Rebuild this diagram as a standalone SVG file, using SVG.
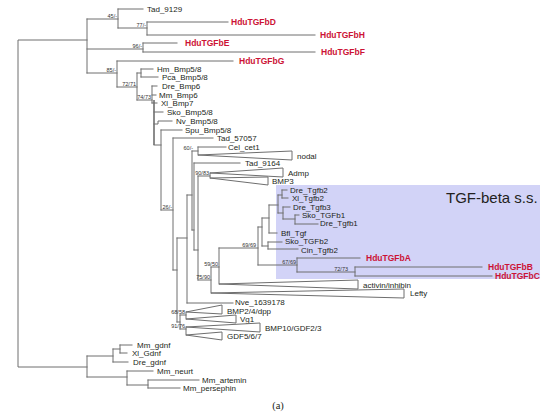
<svg xmlns="http://www.w3.org/2000/svg" width="550" height="416" viewBox="0 0 550 416">
<style>
.br{fill:none;stroke:#6e6e6e;stroke-width:1;stroke-linecap:square}
.tri{fill:#fff;stroke:#6e6e6e;stroke-width:1}
.lf{font-family:"Liberation Sans",Arial,sans-serif;font-size:8px;fill:#231f20}
.rd{font-family:"Liberation Sans",Arial,sans-serif;font-size:8.5px;font-weight:bold;fill:#cc1236}
.bs{font-family:"Liberation Sans",Arial,sans-serif;font-size:5.5px;fill:#333;text-anchor:end}
</style>
<rect width="550" height="416" fill="#fff"/>
<rect id="tgfbeta-box" x="276" y="185" width="264" height="94" fill="#d2d3f7"/>
<text x="446" y="203" font-family="'Liberation Sans',Arial,sans-serif" font-size="15" fill="#231f20">TGF-beta s.s.</text>
<g id="connectors">
<path class="br" d="M87,40H18V367H87 M87,19V73 M87,19H118 M118,9V28 M118,9H143 M118,28H147 M147,22V35 M147,22H228 M147,35H315 M87,49H143 M143,43V52 M143,43H177 M143,52H315 M87,73H117 M117,61V87 M117,61H233 M117,87H137 M137,73V100 M137,73H141 M141,69V77 M141,69H153 M141,77H158 M137,100H152 M152,86V103 M152,86H157 M152,95H156 M152,103H157 M154,112H163 M154,124H158V121H172 M154,145H161 M161,130V210 M161,130H182 M161,210H173 M173,138V270 M173,138H213 M173,270H177 M177,238V322 M177,238H187 M177,322H180 M187,195V303 M187,303H233 M187,195H192 M192,151V230 M192,151H198 M198,147V155 M198,147H226 M192,230H194 M194,163V250 M194,163H240 M194,250H198 M198,176V280 M198,176H210 M210,173V178 M198,280H211 M211,267V293 M211,267H219 M219,248V284 M219,248H258 M258,227V265 M258,227H262 M258,265H297 M262,218V246 M262,218H269 M262,246H268 M269,205V233 M269,205H278 M269,233H277 M278,195V213 M278,195H282 M278,213H283 M282,190V198 M282,190H287 M282,198H288 M283,207V219 M283,207H290 M283,219H295 M295,215V224 M295,215H299 M295,224H318 M268,242V249 M268,242H282 M268,249H298 M297,258V272 M297,258H360 M297,272H355 M355,267V276 M355,267H482 M355,276H492 M180,315V329 M180,315H186 M180,329H186 M186,312V319 M186,327V335 M87,356V377 M87,356H113 M113,349V362 M113,349H120 M120,345V353 M120,345H132 M120,353H127 M113,362H128 M87,377H127 M127,371V385 M127,371H153 M127,385H148 M148,380V388 M148,380H199 M148,388H180"/>
<path d="M154,100V145" fill="none" stroke="#6e6e6e" stroke-width="1.6"/>
</g>
<g id="support">
<text class="bs" x="117" y="18">45/-</text>
<text class="bs" x="146" y="27">77/-</text>
<text class="bs" x="142" y="48">96/-</text>
<text class="bs" x="116" y="72">85/-</text>
<text class="bs" x="136" y="86">72/71</text>
<text class="bs" x="151" y="99">74/73</text>
<text class="bs" x="193" y="150">60/-</text>
<text class="bs" x="172" y="209">26/-</text>
<text class="bs" x="209" y="175">90/83</text>
<text class="bs" x="256" y="247">69/69</text>
<text class="bs" x="218" y="266">59/50</text>
<text class="bs" x="210" y="279">75/90</text>
<text class="bs" x="296" y="264">67/69</text>
<text class="bs" x="348" y="271">72/73</text>
<text class="bs" x="185" y="314">68/58</text>
<text class="bs" x="185" y="328">91/76</text>
</g>
<g id="n-Tad_9129"><text class="lf" x="147" y="12">Tad_9129</text></g>
<g id="n-HduTGFbD"><text class="rd" x="231" y="25">HduTGFbD</text></g>
<g id="n-HduTGFbH"><text class="rd" x="320" y="38">HduTGFbH</text></g>
<g id="n-HduTGFbE"><text class="rd" x="185" y="46">HduTGFbE</text></g>
<g id="n-HduTGFbF"><text class="rd" x="321" y="55">HduTGFbF</text></g>
<g id="n-HduTGFbG"><text class="rd" x="239" y="64">HduTGFbG</text></g>
<g id="n-Hm_Bmp58"><text class="lf" x="157" y="72">Hm_Bmp5/8</text></g>
<g id="n-Pca_Bmp58"><text class="lf" x="162" y="80">Pca_Bmp5/8</text></g>
<g id="n-Dre_Bmp6"><text class="lf" x="162" y="89">Dre_Bmp6</text></g>
<g id="n-Mm_Bmp6"><text class="lf" x="159" y="98">Mm_Bmp6</text></g>
<g id="n-Xl_Bmp7"><text class="lf" x="161" y="106">Xl_Bmp7</text></g>
<g id="n-Sko_Bmp58"><text class="lf" x="167" y="115">Sko_Bmp5/8</text></g>
<g id="n-Nv_Bmp58"><text class="lf" x="176" y="124">Nv_Bmp5/8</text></g>
<g id="n-Spu_Bmp58"><text class="lf" x="185" y="133">Spu_Bmp5/8</text></g>
<g id="n-Tad_57057"><text class="lf" x="217" y="141">Tad_57057</text></g>
<g id="n-Cel_cet1"><text class="lf" x="228" y="150">Cel_cet1</text></g>
<g id="n-nodal"><polygon class="tri" points="198,155 292,151 292,160"/><text class="lf" x="297" y="159">nodal</text></g>
<g id="n-Tad_9164"><text class="lf" x="245" y="166">Tad_9164</text></g>
<g id="n-Admp"><polygon class="tri" points="210,173 283,168 283,177"/><text class="lf" x="288" y="176">Admp</text></g>
<g id="n-BMP3"><polygon class="tri" points="210,178 268,177 268,185"/><text class="lf" x="272" y="184">BMP3</text></g>
<g id="n-Dre_Tgfb2"><text class="lf" x="290" y="193">Dre_Tgfb2</text></g>
<g id="n-Xl_Tgfb2"><text class="lf" x="292" y="201">Xl_Tgfb2</text></g>
<g id="n-Dre_Tgfb3"><text class="lf" x="293" y="210">Dre_Tgfb3</text></g>
<g id="n-Sko_TGFb1"><text class="lf" x="302" y="218">Sko_TGFb1</text></g>
<g id="n-Dre_Tgfb1"><text class="lf" x="320" y="226">Dre_Tgfb1</text></g>
<g id="n-Bfl_Tgf"><text class="lf" x="281" y="236">Bfl_Tgf</text></g>
<g id="n-Sko_TGFb2"><text class="lf" x="285" y="244">Sko_TGFb2</text></g>
<g id="n-Cin_Tgfb2"><text class="lf" x="301" y="253">Cin_Tgfb2</text></g>
<g id="n-HduTGFbA"><text class="rd" x="366" y="261">HduTGFbA</text></g>
<g id="n-HduTGFbB"><text class="rd" x="488" y="270">HduTGFbB</text></g>
<g id="n-HduTGFbC"><text class="rd" x="495" y="279">HduTGFbC</text></g>
<g id="n-activin"><polygon class="tri" points="219,284 358,280 358,289"/><text class="lf" x="363" y="288">activin/inhibin</text></g>
<g id="n-Lefty"><polygon class="tri" points="211,293 404,289 404,298"/><text class="lf" x="410" y="296">Lefty</text></g>
<g id="n-Nve_1639178"><text class="lf" x="235" y="305">Nve_1639178</text></g>
<g id="n-BMP24dpp"><polygon class="tri" points="186,312 222,305 222,314"/><text class="lf" x="227" y="314">BMP2/4/dpp</text></g>
<g id="n-Vg1"><polygon class="tri" points="186,319 236,315 236,323"/><text class="lf" x="240" y="322">Vg1</text></g>
<g id="n-BMP10"><polygon class="tri" points="186,327 260,323 260,332"/><text class="lf" x="265" y="331">BMP10/GDF2/3</text></g>
<g id="n-GDF567"><polygon class="tri" points="186,335 222,332 222,340"/><text class="lf" x="227" y="339">GDF5/6/7</text></g>
<g id="n-Mm_gdnf"><text class="lf" x="137" y="348">Mm_gdnf</text></g>
<g id="n-Xl_Gdnf"><text class="lf" x="132" y="356">Xl_Gdnf</text></g>
<g id="n-Dre_gdnf"><text class="lf" x="133" y="365">Dre_gdnf</text></g>
<g id="n-Mm_neurt"><text class="lf" x="157" y="374">Mm_neurt</text></g>
<g id="n-Mm_artemin"><text class="lf" x="202" y="383">Mm_artemin</text></g>
<g id="n-Mm_persephin"><text class="lf" x="183" y="391">Mm_persephin</text></g>
<text x="278" y="409" font-family="'Liberation Serif',serif" font-size="10.5" fill="#231f20" text-anchor="middle">(a)</text>
</svg>
